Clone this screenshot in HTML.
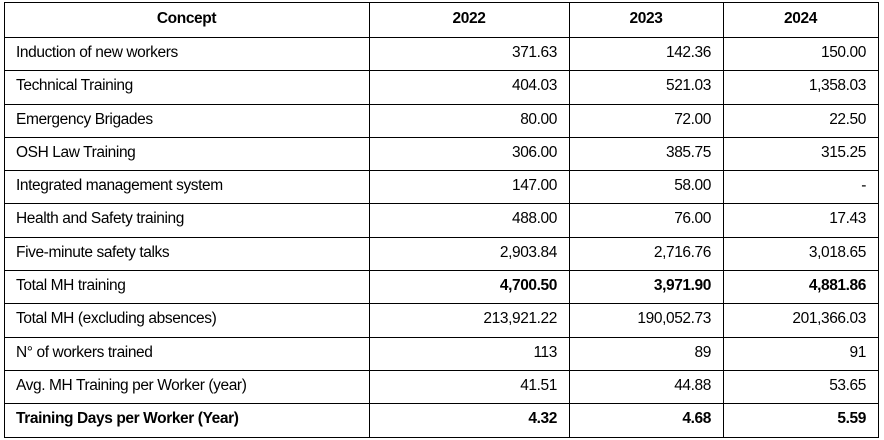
<!DOCTYPE html>
<html><head><meta charset="utf-8"><style>
body{margin:0;width:884px;height:440px;background:#fff;overflow:hidden}
table{position:absolute;left:4px;top:2px;border-collapse:collapse;font-family:"Liberation Sans",Arial,sans-serif;font-size:15.5px;letter-spacing:-0.4px;color:#000;table-layout:fixed}
td,th{border:1px solid #000;height:32.3px;padding:0 12px 0 11px;vertical-align:top;line-height:29px;white-space:nowrap;overflow:hidden}
th{height:34px;line-height:32px;font-weight:bold;text-align:center}
td.n{text-align:right}
tr.b td{font-weight:bold}
</style></head><body>
<table>
<colgroup><col style="width:365px"><col style="width:200px"><col style="width:154px"><col style="width:155px"></colgroup>
<tr><th>Concept</th><th>2022</th><th>2023</th><th>2024</th></tr>
<tr><td>Induction of new workers</td><td class="n">371.63</td><td class="n">142.36</td><td class="n">150.00</td></tr>
<tr><td>Technical Training</td><td class="n">404.03</td><td class="n">521.03</td><td class="n">1,358.03</td></tr>
<tr><td>Emergency Brigades</td><td class="n">80.00</td><td class="n">72.00</td><td class="n">22.50</td></tr>
<tr><td>OSH Law Training</td><td class="n">306.00</td><td class="n">385.75</td><td class="n">315.25</td></tr>
<tr><td>Integrated management system</td><td class="n">147.00</td><td class="n">58.00</td><td class="n">-</td></tr>
<tr><td>Health and Safety training</td><td class="n">488.00</td><td class="n">76.00</td><td class="n">17.43</td></tr>
<tr><td>Five-minute safety talks</td><td class="n">2,903.84</td><td class="n">2,716.76</td><td class="n">3,018.65</td></tr>
<tr><td>Total MH training</td><td class="n"><b>4,700.50</b></td><td class="n"><b>3,971.90</b></td><td class="n"><b>4,881.86</b></td></tr>
<tr><td>Total MH (excluding absences)</td><td class="n">213,921.22</td><td class="n">190,052.73</td><td class="n">201,366.03</td></tr>
<tr><td>N° of workers trained</td><td class="n">113</td><td class="n">89</td><td class="n">91</td></tr>
<tr><td>Avg. MH Training per Worker (year)</td><td class="n">41.51</td><td class="n">44.88</td><td class="n">53.65</td></tr>
<tr class="b"><td>Training Days per Worker (Year)</td><td class="n">4.32</td><td class="n">4.68</td><td class="n">5.59</td></tr>
</table>
</body></html>
